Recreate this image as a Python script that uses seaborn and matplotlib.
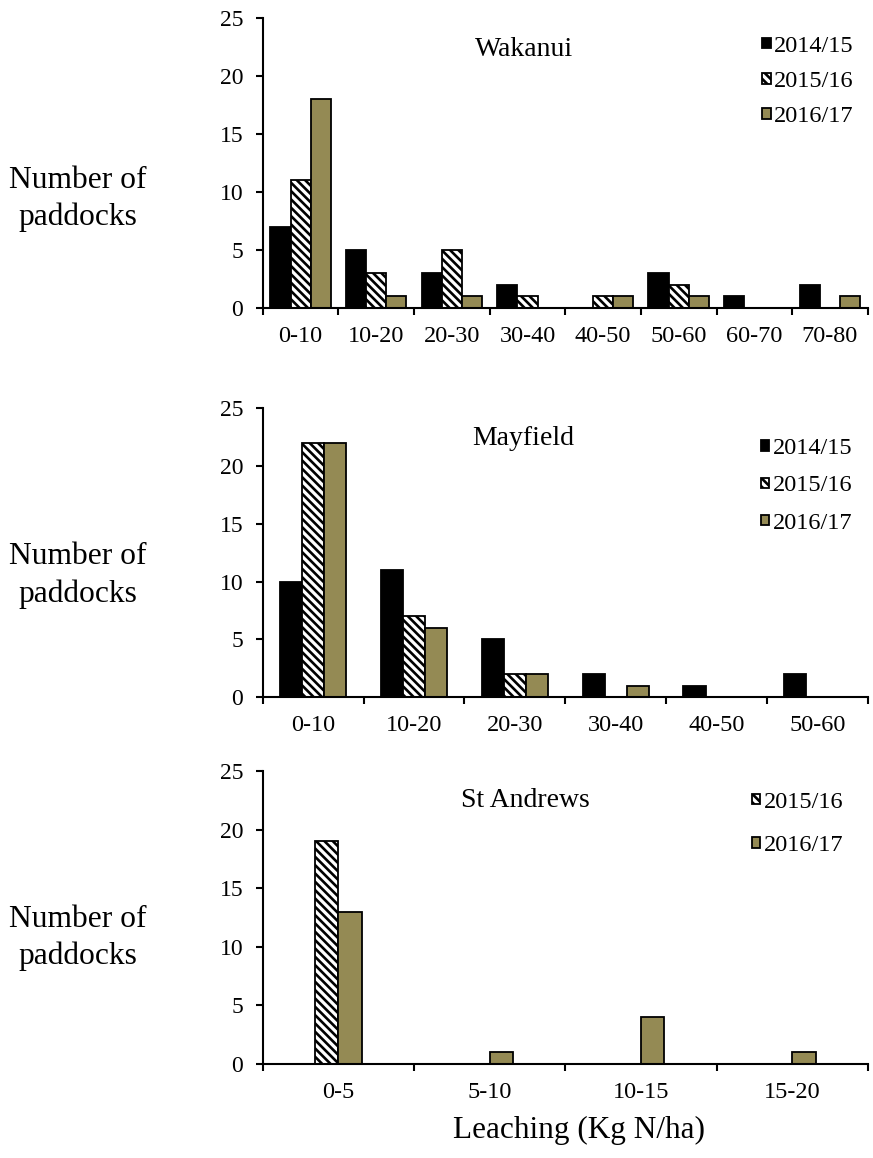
import matplotlib
matplotlib.use("Agg")
import matplotlib.pyplot as plt
import seaborn as sns
import pandas as pd
from matplotlib.ticker import FixedLocator

# ---- data ----
years = ["2014/15", "2015/16", "2016/17"]

wak_bins = ["0-10", "10-20", "20-30", "30-40", "40-50", "50-60", "60-70", "70-80"]
wak_1415 = [7, 5, 3, 2, 0, 3, 1, 2]
wak_1516 = [11, 3, 5, 1, 1, 2, 0, 0]
wak_1617 = [18, 1, 1, 0, 1, 1, 0, 1]

may_bins = ["0-10", "10-20", "20-30", "30-40", "40-50", "50-60"]
may_1415 = [10, 11, 5, 2, 1, 2]
may_1516 = [22, 7, 2, 0, 0, 0]
may_1617 = [22, 6, 2, 1, 0, 0]

sta_bins = ["0-5", "5-10", "10-15", "15-20"]
sta_1516 = [19, 0, 0, 0]
sta_1617 = [13, 1, 4, 1]

colors = {"2014/15": "#000000", "2015/16": "#FFFFFF", "2016/17": "#948A54"}

sns.set_style("white")
plt.rcParams["font.family"] = ["Liberation Serif", "DejaVu Serif"]
plt.rcParams["hatch.linewidth"] = 1.9
plt.rcParams["hatch.color"] = "black"
for k in ["text.color", "axes.labelcolor", "xtick.color", "ytick.color", "axes.edgecolor"]:
    plt.rcParams[k] = "black"


def long_df(bins, series):
    rows = []
    for yr, vals in series.items():
        for b, v in zip(bins, vals):
            rows.append({"bin": b, "year": yr, "count": v})
    return pd.DataFrame(rows)


fig = plt.figure(figsize=(8.73, 11.58), dpi=100)

panels = [
    dict(name="Wakanui", bins=wak_bins,
         series={"2014/15": wak_1415, "2015/16": wak_1516, "2016/17": wak_1617},
         rect=[0.301, 0.734, 0.693, 0.2504], width=0.80,
         title_xy=(0.432, 0.893), leg_xy=(0.825, 0.938), leg_sp=0.58, ylab_y=0.828),
    dict(name="Mayfield", bins=may_bins,
         series={"2014/15": may_1415, "2015/16": may_1516, "2016/17": may_1617},
         rect=[0.301, 0.398, 0.693, 0.2496], width=0.655,
         title_xy=(0.431, 0.896), leg_xy=(0.823, 0.895), leg_sp=0.66, ylab_y=0.503),
    dict(name="St Andrews", bins=sta_bins,
         series={"2015/16": sta_1516, "2016/17": sta_1617},
         rect=[0.301, 0.0812, 0.693, 0.253], width=0.31,
         title_xy=(0.434, 0.90), leg_xy=(0.808, 0.930), leg_sp=0.93, ylab_y=0.190),
]

for p in panels:
    ax = fig.add_axes(p["rect"])
    df = long_df(p["bins"], p["series"])
    hue_order = list(p["series"].keys())
    sns.barplot(data=df, x="bin", y="count", hue="year", hue_order=hue_order,
                order=p["bins"], palette=[colors[h] for h in hue_order],
                width=p["width"], edgecolor="black", linewidth=1.3,
                saturation=1, gap=0, ax=ax, legend=False)
    for cont, yr in zip(ax.containers, hue_order):
        if yr == "2015/16":
            for bar in cont.patches:
                bar.set_hatch("\\\\\\\\")
    n = len(p["bins"])
    ax.set_xlim(-0.5, n - 0.5)
    ax.set_ylim(0, 25)
    ax.set_yticks([0, 5, 10, 15, 20, 25])
    ax.set_xlabel("")
    ax.set_ylabel("")
    for s in ["top", "right"]:
        ax.spines[s].set_visible(False)
    for s in ["left", "bottom"]:
        ax.spines[s].set_linewidth(1.5)
        ax.spines[s].set_color("black")
    ax.xaxis.set_minor_locator(FixedLocator([i - 0.5 for i in range(n + 1)]))
    ax.tick_params(axis="x", which="major", length=0, pad=13, labelsize=17.5)
    ax.tick_params(axis="x", which="minor", length=5, width=1.5, direction="out",
                   color="black", bottom=True)
    ax.tick_params(axis="y", which="major", length=5, width=1.5, direction="out",
                   color="black", pad=9, labelsize=17, left=True)
    ax.text(p["title_xy"][0], p["title_xy"][1], p["name"], transform=ax.transAxes,
            ha="center", va="center", fontsize=20)
    leg = ax.legend(handles=list(ax.containers), labels=hue_order,
                    loc="upper left", bbox_to_anchor=p["leg_xy"],
                    frameon=False, fontsize=17.5, handlelength=0.36, handleheight=0.28,
                    handletextpad=0.15, labelspacing=p["leg_sp"],
                    borderpad=0, borderaxespad=0)
    fig.text(0.089, p["ylab_y"], "Number of\npaddocks", ha="center", va="center",
             fontsize=22.7, linespacing=1.36)

fig.text(0.663, 0.024, "Leaching (Kg N/ha)", ha="center", va="center", fontsize=22.5)

fig.savefig("out.png", dpi=100)
